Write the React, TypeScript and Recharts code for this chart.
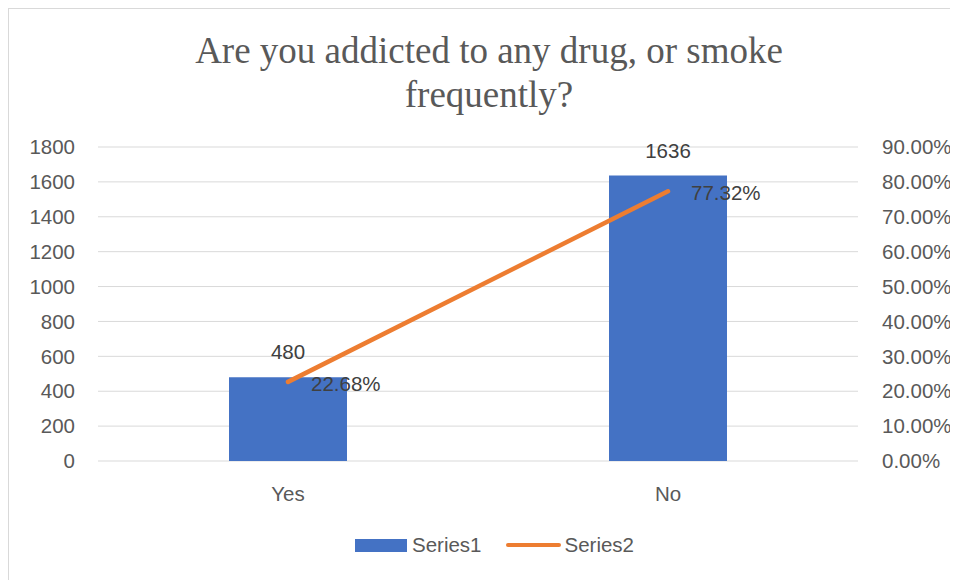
import { ComposedChart, Bar, Line, XAxis, YAxis, CartesianGrid, Legend, LabelList } from 'recharts'

const answers = ['Yes', 'No']
const counts = [480, 1636]
const shares = [0.2268, 0.7732]
const countTicks = [0, 200, 400, 600, 800, 1000, 1200, 1400, 1600, 1800]
const shareTicks = [0, 0.1, 0.2, 0.3, 0.4, 0.5, 0.6, 0.7, 0.8, 0.9]

const data = answers.map((a, i) => ({ answer: a, Series1: counts[i], Series2: shares[i] }))

const BLUE = '#4472C4'
const ORANGE = '#ED7D31'
const TXT = '#595959'
const LBL = '#404040'
const FONT = '"Liberation Sans", Arial, sans-serif'
const FS = 20.5

const pct = (v: number) => (v * 100).toFixed(2) + '%'
const tickStyle = { fill: TXT, fontSize: FS, fontFamily: FONT }

function BarLabel(p: any) {
  return <text x={p.x + p.width / 2} y={p.y - 18} textAnchor="middle" fill={LBL} fontSize={FS} fontFamily={FONT}>{p.value}</text>
}

function LineLabel(p: any) {
  return <text x={p.x + 23} y={p.y + 1.5} dy="0.36em" textAnchor="start" fill={LBL} fontSize={FS} fontFamily={FONT}>{pct(p.value)}</text>
}

function LegendBox() {
  return (
    <div style={{ display: 'flex', alignItems: 'center', height: 24, paddingLeft: 346, fontFamily: FONT, fontSize: FS, color: TXT }}>
      <span style={{ width: 52, height: 13, background: BLUE, display: 'inline-block', marginRight: 5 }} />
      <span>Series1</span>
      <span style={{ width: 55, height: 4, background: ORANGE, borderRadius: 2, display: 'inline-block', marginLeft: 24, marginRight: 4 }} />
      <span>Series2</span>
    </div>
  )
}

export default function App() {
  return (
    <div style={{ position: 'relative', width: 950, height: 572, borderTop: '1px solid #d9d9d9', borderLeft: '1px solid #d9d9d9', boxSizing: 'border-box', background: '#fff' }}>
      <div style={{ position: 'absolute', left: 30, top: 19.5, width: 900, textAlign: 'center', fontFamily: '"Liberation Serif", "Times New Roman", serif', fontSize: 37, lineHeight: '44px', color: TXT }}>
        Are you addicted to any drug, or smoke<br />frequently?
      </div>
      <ComposedChart width={949} height={571} data={data} margin={{ top: 138, right: 0, bottom: 23, left: 0 }}>
        <CartesianGrid yAxisId="left" vertical={false} stroke="#d9d9d9" />
        <XAxis dataKey="answer" axisLine={false} tickLine={false} tickSize={0} tickMargin={25} height={72} tick={tickStyle} />
        <YAxis yAxisId="left" domain={[0, 1800]} ticks={countTicks} axisLine={false} tickLine={false} tickSize={0} tickMargin={23} width={89} tick={tickStyle} />
        <YAxis yAxisId="right" orientation="right" domain={[0, 0.9]} ticks={shareTicks} tickFormatter={pct} axisLine={false} tickLine={false} tickSize={0} tickMargin={24} width={100} tick={tickStyle} />
        <Legend verticalAlign="bottom" content={() => <LegendBox />} wrapperStyle={{ left: 0, width: 949, bottom: 23 }} />
        <Bar yAxisId="left" dataKey="Series1" fill={BLUE} barSize={118} isAnimationActive={false}>
          <LabelList dataKey="Series1" content={BarLabel} />
        </Bar>
        <Line yAxisId="right" dataKey="Series2" stroke={ORANGE} strokeWidth={4.5} strokeLinecap="round" dot={false} activeDot={false} isAnimationActive={false}>
          <LabelList dataKey="Series2" content={LineLabel} />
        </Line>
      </ComposedChart>
    </div>
  )
}
